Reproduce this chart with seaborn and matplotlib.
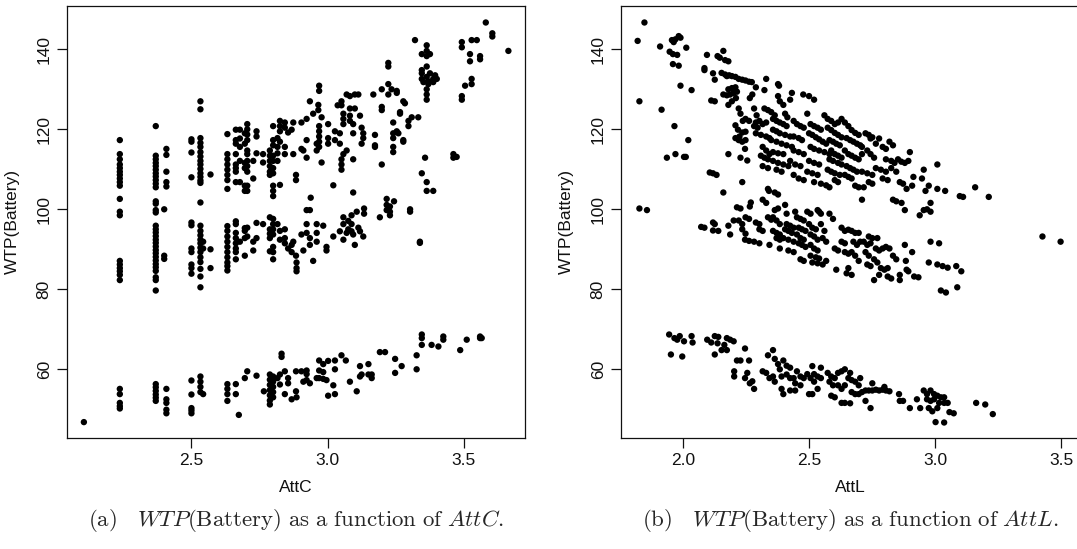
import matplotlib
matplotlib.use("Agg")
import matplotlib.pyplot as plt
import seaborn as sns
import pandas as pd

# ---------------- Panel (a): WTP(Battery) vs AttC (values grouped by AttC column)
attc_cols = [2.105, 2.237, 2.369, 2.400, 2.408, 2.500, 2.533, 2.543, 2.570, 2.632,
             2.663, 2.674, 2.678, 2.696, 2.705, 2.727, 2.739, 2.763, 2.766, 2.788,
             2.800, 2.816, 2.825, 2.831, 2.843, 2.855, 2.868, 2.874, 2.884, 2.886,
             2.904, 2.911, 2.923, 2.935, 2.938, 2.947, 2.960, 2.966, 2.969, 2.978,
             2.984, 2.996, 3.002, 3.021, 3.027, 3.037, 3.045, 3.051, 3.058, 3.067,
             3.070, 3.076, 3.082, 3.088, 3.094, 3.100, 3.107, 3.113, 3.119, 3.125,
             3.131, 3.134, 3.150, 3.162, 3.168, 3.174, 3.192, 3.199, 3.211, 3.217,
             3.223, 3.229, 3.235, 3.241, 3.244, 3.248, 3.254, 3.260, 3.266, 3.272,
             3.278, 3.284, 3.297, 3.303, 3.309, 3.321, 3.327, 3.333, 3.339, 3.346,
             3.352, 3.358, 3.364, 3.370, 3.376, 3.382, 3.388, 3.395, 3.401, 3.407,
             3.425, 3.462, 3.474, 3.487, 3.493, 3.505, 3.511, 3.523, 3.529, 3.548,
             3.560, 3.566, 3.581, 3.605, 3.664]
wtp_cols = [
    [46.8],
    [117.3, 113.8, 112.5, 111.2, 110.3, 109.4, 108.6, 107.7, 106.8, 105.9, 102.6, 99.4, 98.5,
     87.1, 86.2, 85.3, 84.5, 83.6, 82.3, 55.1, 53.8, 51.6, 50.8, 50.2],
    [120.8, 113.4, 112.5, 111.6, 110.8, 109.9, 109.0, 108.2, 107.3, 106.4, 105.5, 102.0, 101.4,
     99.8, 99.2, 95.9, 95.0, 94.2, 93.3, 92.4, 91.6, 90.7, 89.8, 89.0, 88.1, 87.2, 86.3, 85.5,
     84.6, 83.0, 82.3, 79.7, 56.3, 55.5, 54.6, 53.7, 52.9, 52.1],
    [100.0, 88.4, 87.6],
    [115.1, 113.6, 109.4, 106.8, 105.7, 55.1, 52.5, 51.6, 49.9, 49.0],
    [117.5, 116.9, 114.2, 108.0, 96.7, 96.0, 90.2, 89.3, 86.2, 85.3, 83.9, 57.2, 53.7, 50.3, 49.7, 49.0],
    [127.0, 125.0, 117.8, 116.6, 115.6, 114.3, 113.2, 112.1, 111.2, 110.1, 109.0, 108.1, 107.2,
     106.6, 101.7, 95.9, 94.6, 93.5, 92.4, 91.5, 90.4, 89.3, 88.0, 86.8, 85.1, 83.2, 80.5,
     58.2, 56.9, 55.6, 54.3],
    [91.9, 90.2, 53.8],
    [108.7, 90.0, 85.3],
    [118.8, 113.8, 112.5, 111.2, 109.9, 108.6, 107.3, 105.1, 95.8, 94.6, 93.2, 91.9, 90.6, 89.3,
     88.0, 86.7, 85.8, 84.7, 56.3, 55.1, 53.8, 52.1],
    [119.9, 117.3, 116.4, 113.8, 111.2, 110.3, 109.4, 106.8, 97.0, 96.3, 94.1, 92.8, 91.5, 90.2,
     89.3, 87.5, 56.3, 53.8],
    [48.6],
    [119.9, 117.7, 115.6, 112.1, 106.8, 91.9],
    [119.0, 116.4, 111.6, 110.3, 105.9, 104.6, 95.3, 94.6, 92.8, 88.4, 57.8],
    [121.3, 120.0, 118.7, 117.3, 114.7, 113.8, 112.1, 110.8, 109.4, 105.9, 104.6, 95.4, 93.2, 59.5],
    [112.1, 107.7, 91.9, 89.7],
    [119.5, 118.2, 114.0, 96.6, 92.8, 58.4],
    [113.8, 111.7, 96.3],
    [54.5],
    [114.7, 113.4, 112.1, 110.8, 109.4, 108.6, 98.0, 95.0, 93.9, 92.8, 89.5, 58.7, 57.4, 56.1,
     54.8, 53.5, 52.2, 51.2],
    [120.8, 117.3, 116.0, 113.4, 112.1, 110.3, 109.0, 105.9, 104.6, 103.3, 97.6, 96.3, 95.0,
     93.7, 90.6, 89.3, 87.5, 58.2, 56.9, 55.6, 54.3, 53.0],
    [117.8, 115.6, 114.0, 112.1, 96.3, 57.8],
    [122.1, 120.8, 119.5, 116.9, 106.1, 94.6, 92.4, 58.7, 56.2],
    [63.9, 63.1],
    [121.7, 120.4, 115.6, 113.8, 95.0, 92.8, 91.5, 59.5, 53.8],
    [119.2, 90.2, 57.8, 56.5],
    [119.9, 91.1, 89.3, 52.5],
    [121.7, 113.8, 91.9],
    [108.6, 107.3, 88.4, 59.5, 54.5],
    [86.7, 85.3, 84.5, 53.0],
    [121.7, 115.1, 93.7, 59.5],
    [114.7, 89.7, 56.9],
    [122.6, 117.3, 112.9, 99.8, 96.3, 94.1, 59.7, 58.8, 57.3],
    [127.0, 99.8, 92.8, 91.1, 56.5],
    [102.9],
    [123.9, 87.1],
    [116.4, 114.7, 96.3, 94.1, 91.9, 57.8],
    [126.1, 124.8],
    [130.9, 129.6, 120.8, 119.5, 118.2, 116.9, 115.6, 62.2, 59.7, 57.8],
    [123.0, 111.7],
    [95.9, 61.3, 59.3, 57.6],
    [90.6, 89.7, 57.3],
    [121.3, 117.8, 116.4, 62.1, 53.4],
    [106.0, 93.2, 56.0],
    [119.5, 117.3, 62.2, 60.0, 53.8],
    [126.0],
    [119.0, 116.4, 94.5],
    [127.0, 126.0, 112.5, 111.2, 109.9, 63.5],
    [123.9, 122.6, 121.3, 113.8, 98.0, 96.3, 92.4],
    [62.2],
    [128.7, 114.7, 94.1],
    [97.1, 95.0],
    [128.3, 125.2, 123.4, 122.1, 56.9],
    [98.5, 96.3, 94.5],
    [121.3, 119.0, 112.5, 104.2, 93.7],
    [128.7, 125.2, 91.1],
    [99.4, 54.5],
    [128.7, 95.4],
    [123.4, 94.5, 60.8, 58.2],
    [120.4, 116.4, 58.7],
    [119.0, 117.8, 93.2],
    [100.2, 98.9],
    [61.3, 58.7],
    [58.7, 57.8],
    [128.7],
    [118.6, 116.0, 115.6],
    [98.0, 64.3],
    [130.0, 125.6, 124.8, 111.2],
    [64.3],
    [102.6, 101.1, 99.8],
    [136.6, 135.7, 131.3, 128.7],
    [100.7, 99.4, 98.5],
    [130.0],
    [121.7, 119.0, 117.8, 115.6, 114.3],
    [102.0],
    [62.6, 59.1],
    [129.6, 129.1, 119.5],
    [119.0],
    [124.3, 123.9],
    [60.8],
    [127.0, 117.3, 116.9],
    [126.5],
    [122.1, 120.8],
    [100.0, 99.4],
    [123.0],
    [142.3],
    [63.5, 60.0],
    [123.0],
    [91.9, 91.6],
    [138.8, 134.8, 134.0, 132.6, 109.0, 68.7, 67.8, 66.1],
    [131.8],
    [112.9],
    [141.0, 139.6, 138.3, 135.7, 133.1, 130.0, 128.7, 127.4, 106.8, 104.6],
    [132.0, 131.3],
    [138.8, 134.0],
    [66.1],
    [132.6, 131.8, 104.6],
    [133.5],
    [132.6],
    [65.7],
    [68.2, 67.4],
    [113.8, 112.9],
    [113.1],
    [64.8],
    [141.8, 140.5, 128.3, 127.4],
    [130.9],
    [67.4],
    [138.8, 137.0],
    [142.3, 132.6, 131.3],
    [142.3],
    [138.3, 137.5, 68.2, 67.8],
    [67.8],
    [146.7],
    [144.0, 143.2],
    [139.6],
]

# ---------------- Panel (b): WTP(Battery) vs AttL, (AttL, WTP) pairs by band
attl_outer = [(1.846, 146.7), (1.819, 142.1), (1.826, 127.0), (1.826, 100.2), (1.856, 99.8),
              (1.908, 140.7), (1.914, 124.9), (1.935, 112.9), (1.946, 139.4), (1.955, 142.3),
              (1.962, 141.8), (1.969, 142.5), (1.982, 143.3), (1.989, 142.9), (1.959, 138.8),
              (1.976, 138.6), (1.959, 136.3), (1.982, 135.9), (1.965, 120.8), (1.969, 113.8),
              (1.989, 130.9), (2.003, 113.1), (2.010, 113.1), (2.012, 140.4), (2.020, 117.3),
              (2.033, 129.8), (3.425, 93.2), (3.497, 91.9)]

attl_upper = [(2.084, 135.3), (2.084, 134.8), (2.094, 138.6), (2.118, 134.0), (2.125, 132.4),
              (2.111, 127.2), (2.125, 127.0), (2.105, 109.2), (2.118, 109.0), (2.132, 108.6),
              (2.136, 138.3), (2.145, 137.9), (2.159, 139.6), (2.166, 137.3), (2.179, 137.0),
              (2.152, 134.1), (2.166, 133.7), (2.173, 133.3), (2.182, 133.5), (2.193, 133.3),
              (2.207, 133.1), (2.220, 132.6), (2.234, 132.4), (2.247, 132.2), (2.261, 131.9),
              (2.272, 131.8), (2.159, 128.7), (2.173, 128.5), (2.186, 128.7), (2.200, 129.1),
              (2.213, 129.4), (2.179, 130.0), (2.193, 130.3), (2.207, 130.5), (2.179, 126.1),
              (2.193, 127.0), (2.209, 127.8), (2.220, 125.2), (2.227, 123.9), (2.236, 122.1),
              (2.247, 122.6), (2.261, 122.1), (2.207, 121.0), (2.217, 119.9), (2.223, 118.2),
              (2.234, 119.2), (2.247, 119.4), (2.207, 117.8), (2.220, 117.3), (2.234, 116.9),
              (2.247, 117.3), (2.245, 115.1), (2.227, 112.9), (2.254, 112.2), (2.179, 113.8),
              (2.234, 106.8), (2.288, 130.5), (2.329, 132.6), (2.322, 129.8), (2.274, 128.7),
              (2.264, 127.8), (2.281, 125.2), (2.291, 123.5), (2.288, 121.7), (2.302, 122.1),
              (2.315, 121.3), (2.329, 121.7), (2.281, 120.8), (2.295, 120.4), (2.288, 119.0),
              (2.308, 118.6), (2.329, 118.2), (2.342, 117.8), (2.315, 115.6), (2.329, 114.7),
              (2.342, 113.8), (2.308, 113.4), (2.322, 112.9), (2.336, 112.5), (2.315, 110.8),
              (2.336, 110.3), (2.322, 125.2), (2.336, 124.8), (2.349, 124.3), (2.363, 123.5),
              (2.376, 131.3), (2.380, 130.9), (2.376, 128.3), (2.383, 127.0), (2.397, 126.1),
              (2.356, 122.6), (2.370, 122.1), (2.383, 121.7), (2.397, 121.3), (2.410, 120.8),
              (2.356, 119.9), (2.370, 119.5), (2.383, 119.0), (2.404, 118.6), (2.424, 118.2),
              (2.349, 117.3), (2.370, 116.9), (2.390, 116.4), (2.410, 116.0), (2.431, 115.6),
              (2.356, 114.3), (2.376, 114.0), (2.397, 113.8), (2.356, 112.1), (2.376, 111.6),
              (2.397, 111.2), (2.417, 110.8), (2.370, 109.9), (2.390, 109.4), (2.404, 123.9),
              (2.413, 123.0), (2.424, 127.4), (2.431, 129.1), (2.438, 122.1), (2.451, 121.3),
              (2.465, 120.8), (2.478, 120.4), (2.438, 118.2), (2.458, 117.8), (2.471, 117.3),
              (2.438, 114.7), (2.458, 114.3), (2.478, 113.8), (2.424, 112.1), (2.444, 111.2),
              (2.465, 110.8), (2.438, 108.6), (2.458, 107.7), (2.478, 107.3), (2.476, 128.7),
              (2.499, 128.3), (2.519, 127.4), (2.492, 123.9), (2.505, 121.3), (2.519, 120.8),
              (2.533, 120.4), (2.546, 119.9), (2.499, 119.0), (2.512, 118.6), (2.526, 118.0),
              (2.539, 117.5), (2.553, 116.9), (2.567, 116.4), (2.505, 115.6), (2.519, 115.1),
              (2.539, 114.7), (2.560, 114.3), (2.580, 113.8), (2.499, 112.1), (2.519, 111.6),
              (2.539, 111.2), (2.492, 109.4), (2.512, 109.0), (2.533, 108.6), (2.519, 106.8),
              (2.560, 123.5), (2.573, 122.6), (2.587, 122.1), (2.601, 121.3), (2.614, 121.7),
              (2.573, 120.4), (2.587, 119.8), (2.601, 119.1), (2.614, 118.6), (2.628, 118.0),
              (2.580, 117.3), (2.594, 116.9), (2.607, 116.4), (2.621, 116.0), (2.587, 114.7),
              (2.601, 113.8), (2.614, 113.4), (2.628, 112.9), (2.580, 112.5), (2.594, 112.1),
              (2.614, 111.6), (2.573, 109.9), (2.587, 109.4), (2.601, 109.0), (2.621, 108.6),
              (2.546, 106.4), (2.567, 106.0), (2.580, 105.5), (2.601, 107.3), (2.614, 106.8),
              (2.628, 122.6), (2.641, 121.7), (2.655, 120.8), (2.668, 119.8), (2.682, 119.1),
              (2.696, 118.6), (2.648, 117.8), (2.662, 117.3), (2.675, 116.9), (2.689, 116.4),
              (2.702, 116.0), (2.641, 114.7), (2.655, 113.8), (2.668, 113.4), (2.682, 112.9),
              (2.696, 112.5), (2.709, 113.8), (2.628, 111.2), (2.648, 110.8), (2.662, 110.3),
              (2.675, 109.9), (2.689, 109.4), (2.641, 108.6), (2.655, 108.1), (2.668, 107.7),
              (2.682, 105.9), (2.696, 105.5), (2.716, 105.5), (2.723, 119.0), (2.736, 118.6),
              (2.750, 118.0), (2.709, 115.6), (2.730, 114.7), (2.743, 113.8), (2.757, 112.9),
              (2.709, 109.4), (2.730, 109.0), (2.750, 108.6), (2.709, 102.4), (2.736, 106.8),
              (2.750, 106.4), (2.743, 117.7), (2.764, 116.4), (2.777, 117.7), (2.791, 115.6),
              (2.804, 115.1), (2.764, 110.3), (2.784, 109.9), (2.804, 109.4), (2.791, 107.7),
              (2.811, 107.3), (2.818, 116.9), (2.832, 116.0), (2.804, 112.5), (2.825, 112.1),
              (2.838, 111.6), (2.852, 112.5), (2.865, 111.9), (2.879, 111.6), (2.893, 112.1),
              (2.825, 110.3), (2.845, 109.4), (2.859, 106.8), (2.872, 106.4), (2.832, 102.4),
              (2.845, 102.0), (2.866, 101.6), (2.879, 99.8), (2.886, 105.1), (2.899, 114.3),
              (2.908, 105.9), (2.913, 108.1), (2.938, 98.5), (2.947, 107.7), (2.954, 109.9),
              (2.954, 99.8), (2.967, 100.0), (2.961, 104.6), (2.974, 105.9), (2.981, 101.6),
              (2.981, 99.4), (3.008, 105.1), (3.008, 111.2), (3.039, 104.6), (3.097, 103.3),
              (3.110, 103.1), (3.158, 105.5), (3.212, 103.1)]

attl_middle = [(2.071, 95.6), (2.084, 95.4), (2.118, 96.7), (2.125, 96.3), (2.118, 94.7),
               (2.139, 94.6), (2.159, 104.2), (2.179, 95.9), (2.186, 93.7), (2.200, 97.2),
               (2.213, 100.5), (2.227, 100.2), (2.220, 97.2), (2.234, 96.3), (2.234, 95.0),
               (2.247, 93.9), (2.245, 92.4), (2.261, 92.1), (2.247, 98.0), (2.261, 97.6),
               (2.264, 100.7), (2.268, 101.7), (2.281, 91.9), (2.302, 91.5), (2.288, 96.7),
               (2.302, 96.3), (2.302, 95.0), (2.315, 94.6), (2.315, 102.4), (2.329, 101.6),
               (2.336, 105.1), (2.340, 104.6), (2.336, 98.0), (2.349, 97.4), (2.342, 91.1),
               (2.363, 104.2), (2.376, 103.7), (2.363, 99.8), (2.376, 100.2), (2.356, 98.0),
               (2.370, 97.2), (2.383, 96.3), (2.356, 94.6), (2.370, 94.1), (2.383, 93.7),
               (2.370, 92.8), (2.383, 92.4), (2.383, 90.2), (2.404, 101.1), (2.410, 98.9),
               (2.410, 96.3), (2.424, 95.9), (2.438, 95.4), (2.404, 95.0), (2.417, 94.6),
               (2.431, 94.1), (2.397, 92.8), (2.417, 92.4), (2.438, 91.9), (2.417, 89.7),
               (2.438, 89.3), (2.444, 99.4), (2.451, 98.0), (2.465, 97.6), (2.478, 97.2),
               (2.458, 95.4), (2.471, 95.0), (2.485, 94.6), (2.451, 93.7), (2.465, 92.8),
               (2.478, 92.4), (2.458, 91.5), (2.471, 91.1), (2.485, 90.6), (2.465, 87.5),
               (2.478, 87.1), (2.492, 99.4), (2.505, 98.9), (2.499, 96.3), (2.512, 95.4),
               (2.526, 95.0), (2.505, 93.7), (2.519, 93.2), (2.533, 92.4), (2.505, 91.1),
               (2.519, 90.2), (2.533, 89.7), (2.505, 88.4), (2.526, 88.0), (2.539, 87.7),
               (2.512, 86.7), (2.533, 86.5), (2.553, 86.2), (2.533, 99.8), (2.539, 99.4),
               (2.546, 98.9), (2.546, 96.3), (2.560, 94.6), (2.553, 92.8), (2.567, 91.9),
               (2.567, 87.1), (2.580, 98.9), (2.594, 97.6), (2.607, 84.9), (2.601, 90.2),
               (2.614, 89.7), (2.628, 95.4), (2.641, 94.6), (2.628, 91.9), (2.641, 91.5),
               (2.641, 89.3), (2.655, 88.9), (2.648, 84.0), (2.668, 83.6), (2.655, 85.3),
               (2.655, 94.9), (2.668, 94.6), (2.682, 94.1), (2.696, 94.1), (2.675, 91.9),
               (2.689, 91.1), (2.702, 91.9), (2.668, 89.3), (2.682, 88.4), (2.696, 87.1),
               (2.716, 91.9), (2.730, 91.1), (2.743, 91.5), (2.723, 89.3), (2.736, 88.4),
               (2.730, 86.2), (2.743, 85.8), (2.757, 87.5), (2.770, 86.7), (2.736, 93.2),
               (2.750, 92.8), (2.764, 90.2), (2.777, 89.7), (2.770, 92.8), (2.757, 82.3),
               (2.784, 85.3), (2.798, 84.9), (2.811, 85.3), (2.791, 90.2), (2.804, 90.6),
               (2.818, 90.2), (2.777, 83.6), (2.811, 83.2), (2.825, 82.7), (2.832, 88.4),
               (2.845, 87.5), (2.859, 83.6), (2.859, 82.3), (2.879, 91.1), (2.883, 87.1),
               (2.886, 84.9), (2.893, 84.5), (2.908, 89.3), (2.916, 83.2), (2.933, 83.0),
               (2.981, 91.9), (3.015, 91.5), (2.974, 86.7), (3.008, 86.2), (3.029, 85.8),
               (3.049, 85.4), (3.022, 79.7), (3.042, 79.2), (3.083, 85.8), (3.103, 84.5),
               (3.087, 80.5)]

attl_lower = [(1.944, 68.7), (1.951, 63.7), (1.965, 67.8), (1.976, 67.4), (1.986, 68.3),
              (2.003, 67.0), (1.996, 63.2), (2.033, 68.3), (2.037, 66.7), (2.095, 67.4),
              (2.111, 66.7), (2.125, 68.3), (2.139, 68.1), (2.125, 63.7), (2.136, 66.5),
              (2.152, 64.8), (2.173, 64.8), (2.163, 66.1), (2.173, 67.8), (2.186, 67.4),
              (2.200, 67.0), (2.202, 59.5), (2.202, 58.2), (2.213, 62.2), (2.227, 62.2),
              (2.245, 65.2), (2.245, 57.8), (2.254, 59.1), (2.261, 62.2), (2.264, 56.5),
              (2.274, 57.0), (2.281, 55.1), (2.315, 59.5), (2.329, 59.1), (2.336, 63.5),
              (2.356, 64.8), (2.363, 62.6), (2.342, 57.8), (2.356, 58.2), (2.363, 56.9),
              (2.376, 61.3), (2.383, 60.0), (2.390, 58.2), (2.397, 62.2), (2.390, 55.1),
              (2.397, 53.8), (2.410, 60.9), (2.424, 60.4), (2.410, 58.7), (2.424, 57.8),
              (2.438, 57.8), (2.424, 54.7), (2.444, 54.7), (2.451, 59.5), (2.465, 58.2),
              (2.478, 57.8), (2.444, 56.5), (2.465, 56.0), (2.492, 58.8), (2.505, 57.8),
              (2.519, 56.9), (2.512, 60.8), (2.499, 53.8), (2.512, 53.8), (2.519, 58.8),
              (2.533, 58.2), (2.546, 57.8), (2.533, 55.1), (2.546, 60.4), (2.573, 59.1),
              (2.587, 58.2), (2.601, 57.8), (2.580, 56.9), (2.594, 56.0), (2.587, 53.4),
              (2.601, 53.0), (2.614, 59.1), (2.628, 59.5), (2.641, 60.0), (2.614, 56.0),
              (2.628, 55.1), (2.641, 56.0), (2.628, 51.6), (2.641, 51.6), (2.662, 51.5),
              (2.655, 57.8), (2.668, 57.3), (2.662, 59.1), (2.668, 54.3), (2.682, 53.8),
              (2.696, 53.8), (2.682, 56.9), (2.696, 56.0), (2.702, 57.8), (2.709, 54.3),
              (2.723, 54.7), (2.736, 54.7), (2.750, 54.7), (2.764, 54.9), (2.777, 54.7),
              (2.791, 54.9), (2.804, 54.7), (2.818, 54.5), (2.723, 52.1), (2.743, 50.3),
              (2.750, 56.5), (2.798, 55.6), (2.856, 53.8), (2.859, 52.1), (2.872, 52.1),
              (2.899, 50.3), (2.927, 52.5), (2.940, 50.3), (2.954, 54.7), (2.967, 53.8),
              (2.967, 52.5), (2.981, 52.1), (2.995, 52.5), (2.974, 50.3), (2.988, 49.5),
              (2.981, 54.7), (2.995, 53.8), (3.008, 53.4), (3.022, 53.0), (3.035, 53.0),
              (3.008, 50.3), (3.015, 51.6), (3.035, 51.6), (3.049, 51.6), (3.001, 46.8),
              (3.035, 46.7), (3.056, 49.3), (3.073, 49.0), (3.162, 51.6), (3.198, 51.2),
              (3.228, 48.8)]

# ---------------- build data frames
df_a = pd.DataFrame(
    [(x, y) for x, ys in zip(attc_cols, wtp_cols) for y in ys], columns=["AttC", "WTP"]
)
df_b = pd.DataFrame(attl_outer + attl_upper + attl_middle + attl_lower, columns=["AttL", "WTP"])

# ---------------- style
sns.set_style("ticks")
plt.rcParams["font.family"] = ["Liberation Sans", "DejaVu Sans"]
plt.rcParams["mathtext.fontset"] = "cm"

W, H = 1077, 549
fig = plt.figure(figsize=(W / 100, H / 100), dpi=100)
ax_h = 431.4 / H
ax_b = (H - 437.7) / H
axA = fig.add_axes([67 / W, ax_b, 458 / W, ax_h])
axB = fig.add_axes([621 / W, ax_b, 458 / W, ax_h])

for ax, df, xcol, xlim, xticks in [
    (axA, df_a, "AttC", (2.043, 3.725), [2.5, 3.0, 3.5]),
    (axB, df_b, "AttL", (1.753, 3.570), [2.0, 2.5, 3.0, 3.5]),
]:
    sns.scatterplot(data=df, x=xcol, y="WTP", ax=ax, color="black", s=21,
                    linewidth=0, edgecolor="none", legend=False)
    ax.set_xlim(*xlim)
    ax.set_ylim(42.9, 150.75)
    ax.set_xticks(xticks)
    ax.set_xticklabels([f"{t:.1f}" for t in xticks])
    ax.set_yticks([60, 80, 100, 120, 140])
    ax.set_yticklabels(["60", "80", "100", "120", "140"], rotation=90, va="center")
    ax.tick_params(direction="out", length=7, width=0.9, labelsize=12.5, color="#111111",
                   labelcolor="#111111", pad=4)
    for sp in ax.spines.values():
        sp.set_visible(True)
        sp.set_linewidth(0.9)
        sp.set_color("#111111")
    ax.set_xlabel(xcol, fontsize=12.5, labelpad=9, color="#111111")
    ax.set_ylabel("WTP(Battery)", fontsize=12.5, labelpad=12, color="#111111")

cap_y = 1 - 520 / H
fig.text((67 + 229) / W, cap_y,
         r"$\mathrm{(a)}\quad WTP\mathrm{(Battery)\ as\ a\ function\ of\ }AttC.$",
         ha="center", va="center", fontsize=16.5)
fig.text((621 + 229) / W, cap_y,
         r"$\mathrm{(b)}\quad WTP\mathrm{(Battery)\ as\ a\ function\ of\ }AttL.$",
         ha="center", va="center", fontsize=16.5)

fig.savefig("out.png", dpi=100)
